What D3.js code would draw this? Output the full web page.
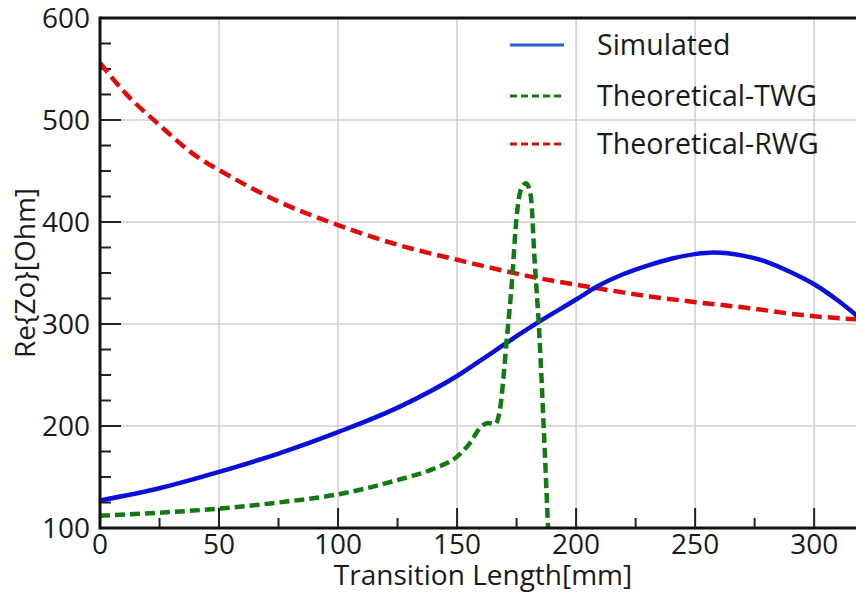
<!DOCTYPE html>
<html>
<head>
<meta charset="utf-8">
<script src="https://cdn.jsdelivr.net/npm/d3@7"></script>
<style>
  body { margin: 0; background: #fff; }
  text { font-family: "Open Sans", "Noto Sans", sans-serif; fill: #1a1a1a; }
</style>
</head>
<body>
<svg id="chart"></svg>
<script>
// values: [transition length mm, Re{Zo} ohm]
const simulated = [[0, 127], [25, 139], [50, 155], [75, 173], [100, 194], [126, 219], [150, 249],
  [166, 274], [175, 288], [185, 303], [200, 324], [209, 337], [220, 349], [231, 358], [240, 364],
  [250, 368.5], [258, 370], [270, 367], [280, 361], [290, 351], [300, 339], [310, 323], [318, 308]];

const theoTWG = [[0, 112], [25, 115], [50, 119], [75, 125], [100, 133], [125, 147], [140, 158],
  [150, 170], [155, 182], [160, 199], [163, 203], [166, 202], [168, 216], [171, 288], [173, 340],
  [175, 405], [177, 433], [179, 438], [181, 425], [182.5, 365], [184.6, 288], [186.5, 193], [188.4, 90]];

const theoRWG = [[0, 556], [10, 528], [25, 495], [42, 462], [50, 451], [75, 420], [100, 397],
  [126, 377], [150, 363], [182, 346], [209, 335], [231, 327], [252, 321], [273, 315.5], [294, 309],
  [318, 304.5]];

const seriesNames = ['Simulated', 'Theoretical-TWG', 'Theoretical-RWG'];
const xMajor = [0, 50, 100, 150, 200, 250, 300];
const yMajor = [100, 200, 300, 400, 500, 600];

const W = 856, H = 592;
const plotL = 100, plotR = 857, plotT = 18, plotB = 528;

const svg = d3.select('#chart').attr('width', W).attr('height', H);

const x = d3.scaleLinear().domain([0, 318]).range([plotL, plotR]);
const y = d3.scaleLinear().domain([100, 600]).range([plotB, plotT]);

// grid
svg.append('g').selectAll('line')
  .data(xMajor.filter(d => d > 0))
  .join('line')
  .attr('x1', d => x(d)).attr('x2', d => x(d))
  .attr('y1', plotT).attr('y2', plotB)
  .attr('stroke', '#cfcfcf').attr('stroke-width', 1.5);

svg.append('g').selectAll('line')
  .data(yMajor.filter(d => d > 100 && d < 600))
  .join('line')
  .attr('x1', plotL).attr('x2', plotR)
  .attr('y1', d => y(d)).attr('y2', d => y(d))
  .attr('stroke', '#cfcfcf').attr('stroke-width', 1.5);

// inward ticks
const xMinor = d3.range(25, 318, 50);
const yMinor = d3.range(125, 600, 25).filter(d => d % 100 !== 0);

svg.append('g').selectAll('line')
  .data(xMajor.filter(d => d > 0))
  .join('line')
  .attr('x1', d => x(d)).attr('x2', d => x(d))
  .attr('y1', plotB).attr('y2', plotB - 20)
  .attr('stroke', '#222').attr('stroke-width', 2);
svg.append('g').selectAll('line')
  .data(xMinor)
  .join('line')
  .attr('x1', d => x(d)).attr('x2', d => x(d))
  .attr('y1', plotB).attr('y2', plotB - 10)
  .attr('stroke', '#222').attr('stroke-width', 2);
svg.append('g').selectAll('line')
  .data(yMajor.filter(d => d > 100 && d < 600))
  .join('line')
  .attr('x1', plotL).attr('x2', plotL + 21)
  .attr('y1', d => y(d)).attr('y2', d => y(d))
  .attr('stroke', '#222').attr('stroke-width', 2);
svg.append('g').selectAll('line')
  .data(yMinor)
  .join('line')
  .attr('x1', plotL).attr('x2', plotL + 11)
  .attr('y1', d => y(d)).attr('y2', d => y(d))
  .attr('stroke', '#222').attr('stroke-width', 2);

// lines
svg.append('clipPath').attr('id', 'plot')
  .append('rect').attr('x', plotL).attr('y', plotT).attr('width', plotR - plotL).attr('height', plotB - plotT);

const line = d3.line()
  .x(d => x(d[0]))
  .y(d => y(d[1]))
  .curve(d3.curveMonotoneX);

const g = svg.append('g').attr('clip-path', 'url(#plot)');

g.append('path').datum(theoRWG)
  .attr('d', line).attr('fill', 'none')
  .attr('stroke', '#e00c0c').attr('stroke-width', 4.5)
  .attr('stroke-dasharray', '12,6');

g.append('path').datum(simulated)
  .attr('d', line).attr('fill', 'none')
  .attr('stroke', '#0a10dc').attr('stroke-width', 4.5);

g.append('path').datum(theoTWG)
  .attr('d', line).attr('fill', 'none')
  .attr('stroke', '#127a12').attr('stroke-width', 4.5)
  .attr('stroke-dasharray', '10,5');

// frame
svg.append('line').attr('x1', plotL).attr('x2', W).attr('y1', plotT).attr('y2', plotT)
  .attr('stroke', '#111').attr('stroke-width', 3);
svg.append('line').attr('x1', plotL).attr('x2', W).attr('y1', plotB).attr('y2', plotB)
  .attr('stroke', '#111').attr('stroke-width', 3);
svg.append('line').attr('x1', plotL).attr('x2', plotL).attr('y1', plotT - 1.5).attr('y2', plotB + 1.5)
  .attr('stroke', '#111').attr('stroke-width', 3);

// tick labels
svg.append('g').selectAll('text')
  .data(xMajor)
  .join('text')
  .attr('x', d => x(d)).attr('y', 554)
  .attr('text-anchor', 'middle')
  .attr('font-size', 28)
  .text(d => d);

svg.append('g').selectAll('text')
  .data(yMajor)
  .join('text')
  .attr('x', 90).attr('y', d => y(d) + 10)
  .attr('text-anchor', 'end')
  .attr('font-size', 28)
  .text(d => d);

// axis titles
svg.append('text')
  .attr('x', 483).attr('y', 585)
  .attr('text-anchor', 'middle')
  .attr('font-size', 28)
  .text('Transition Length[mm]');

svg.append('text')
  .attr('transform', 'translate(35,273) rotate(-90)')
  .attr('text-anchor', 'middle')
  .attr('font-size', 28)
  .text('Re{Zo}[Ohm]');

// legend
const legendStyle = [
  {color: '#2f5fd0', dash: null, y: 45},
  {color: '#127a12', dash: '7,4', y: 96},
  {color: '#d81010', dash: '7,4', y: 144}
];
const lg = svg.append('g');
legendStyle.forEach((s, i) => {
  lg.append('line')
    .attr('x1', 510).attr('x2', 564)
    .attr('y1', s.y).attr('y2', s.y)
    .attr('stroke', s.color).attr('stroke-width', 3)
    .attr('stroke-dasharray', s.dash);
  lg.append('text')
    .attr('x', 597).attr('y', s.y + 10)
    .attr('font-size', 28.5)
    .text(seriesNames[i]);
});
</script>
</body>
</html>
